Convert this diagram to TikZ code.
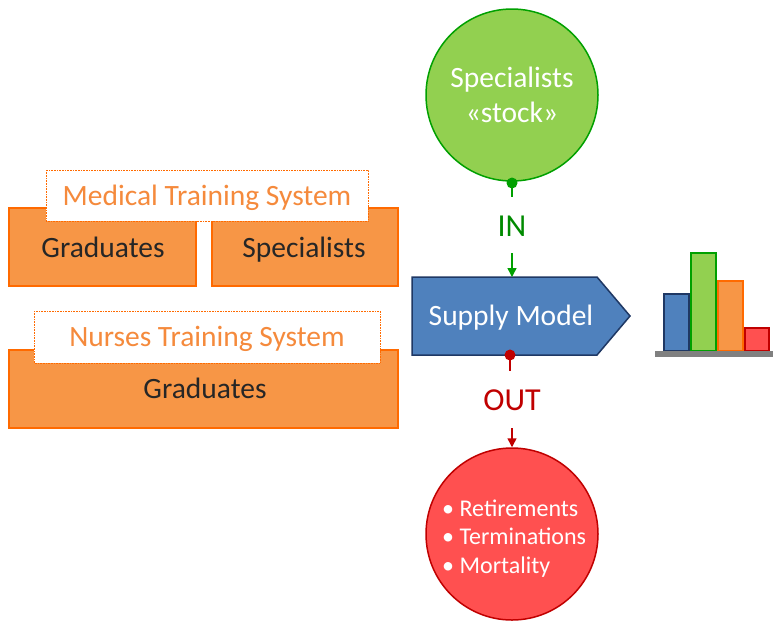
\documentclass[tikz,border=0pt]{standalone}
\usepackage{fontspec}
\setmainfont{Carlito}
\usetikzlibrary{arrows.meta}
\definecolor{orfill}{HTML}{F79646}
\definecolor{ordraw}{HTML}{FF6A00}
\definecolor{ortext}{HTML}{F58A3C}
\definecolor{grfill}{HTML}{92D050}
\definecolor{grdraw}{HTML}{00A000}
\definecolor{grtext}{HTML}{008A00}
\definecolor{blfill}{HTML}{4F81BD}
\definecolor{bldraw}{HTML}{1F3864}
\definecolor{rdfill}{HTML}{FF5050}
\definecolor{rddraw}{HTML}{C00000}
\definecolor{dark}{HTML}{262626}
\tikzset{
  orbox/.style={draw=ordraw, line width=1.5pt, fill=orfill},
  labelbox/.style={draw=ordraw, densely dotted, line width=0.6pt, fill=white},
  boxtext/.style={text=dark, anchor=base, font=\fontsize{29.5}{34}\selectfont},
  labeltext/.style={text=ortext, anchor=base, font=\fontsize{29.5}{34}\selectfont},
  dotend/.style={circle, inner sep=0pt, minimum size=11pt},
}
\begin{document}
\begin{tikzpicture}[x=1pt,y=-1pt]
\useasboundingbox (0,0) rectangle (773,625);

% Medical training system
\draw[orbox] (9,208) rectangle (196,286);
\draw[orbox] (212,208) rectangle (398,286);
\draw[labelbox] (46,170) rectangle (368,221);
\node[labeltext] (medlabel) at (207,205) {Medical Training System};
\node[boxtext] (medgrad) at (103,257) {Graduates};
\node[boxtext] (medspec) at (304,257) {Specialists};

% Nurses training system
\draw[orbox] (9,350) rectangle (398,428);
\draw[labelbox] (34,311) rectangle (380,363);
\node[labeltext] (nurlabel) at (207,346) {Nurses Training System};
\node[boxtext] (nurgrad) at (205,398) {Graduates};

% Specialists stock
\node[circle, draw=grdraw, line width=1.5pt, fill=grfill, minimum size=172pt,
      text=white, align=center, font=\fontsize{29.5}{35}\selectfont]
  (stock) at (512,95) {Specialists\\«stock»};

% Supply model
\draw[draw=bldraw, line width=1.5pt, fill=blfill]
  (412,277) -- (597,277) -- (630,316) -- (597,355) -- (412,355) -- cycle;
\node[text=white, anchor=base, font=\fontsize{29.5}{34}\selectfont] (supply) at (511,325) {Supply Model};

% Outflows
\node[circle, draw=rddraw, line width=1.5pt, fill=rdfill, minimum size=172pt]
  (out) at (512,534) {};
\node[text=white, align=left, font=\fontsize{24}{28.3}\selectfont, anchor=base west, inner sep=0pt]
  (outlist) at (442,573) {• Retirements\\• Terminations\\• Mortality};

% IN flow
\node[dotend, fill=grdraw] (indot) at (512,183) {};
\node[text=grtext, anchor=base, font=\fontsize{32}{36}\selectfont] (inlabel) at (512,236) {IN};
\coordinate (instop) at (512,197);
\coordinate (inarrow) at (512,253);
\draw[grdraw, line width=1.5pt] (indot.center) -- (instop);
\draw[grdraw, line width=1.5pt, -{Triangle[length=9pt,width=9pt]}] (inarrow) -- (512,277);

% OUT flow
\node[dotend, fill=rddraw] (outdot) at (510,355) {};
\node[text=rddraw, anchor=base, font=\fontsize{32}{36}\selectfont] (outlabel) at (512,410) {OUT};
\coordinate (outstop) at (510,371);
\coordinate (outarrow) at (512,428);
\draw[rddraw, line width=1.5pt] (outdot.center) -- (outstop);
\draw[rddraw, line width=1.5pt, -{Triangle[length=9pt,width=9pt]}] (outarrow) -- (out.north);

% Bar chart
\draw[draw=bldraw, line width=1.2pt, fill=blfill] (664,294) rectangle (689,351);
\draw[draw=grdraw, line width=1.2pt, fill=grfill] (691,253) rectangle (716,351);
\draw[draw=ordraw, line width=1.2pt, fill=orfill] (718,281) rectangle (743,351);
\draw[draw=rddraw, line width=1.2pt, fill=rdfill] (745,328) rectangle (769,351);
\fill[gray] (655,351) rectangle (773,357);
\end{tikzpicture}
\end{document}
